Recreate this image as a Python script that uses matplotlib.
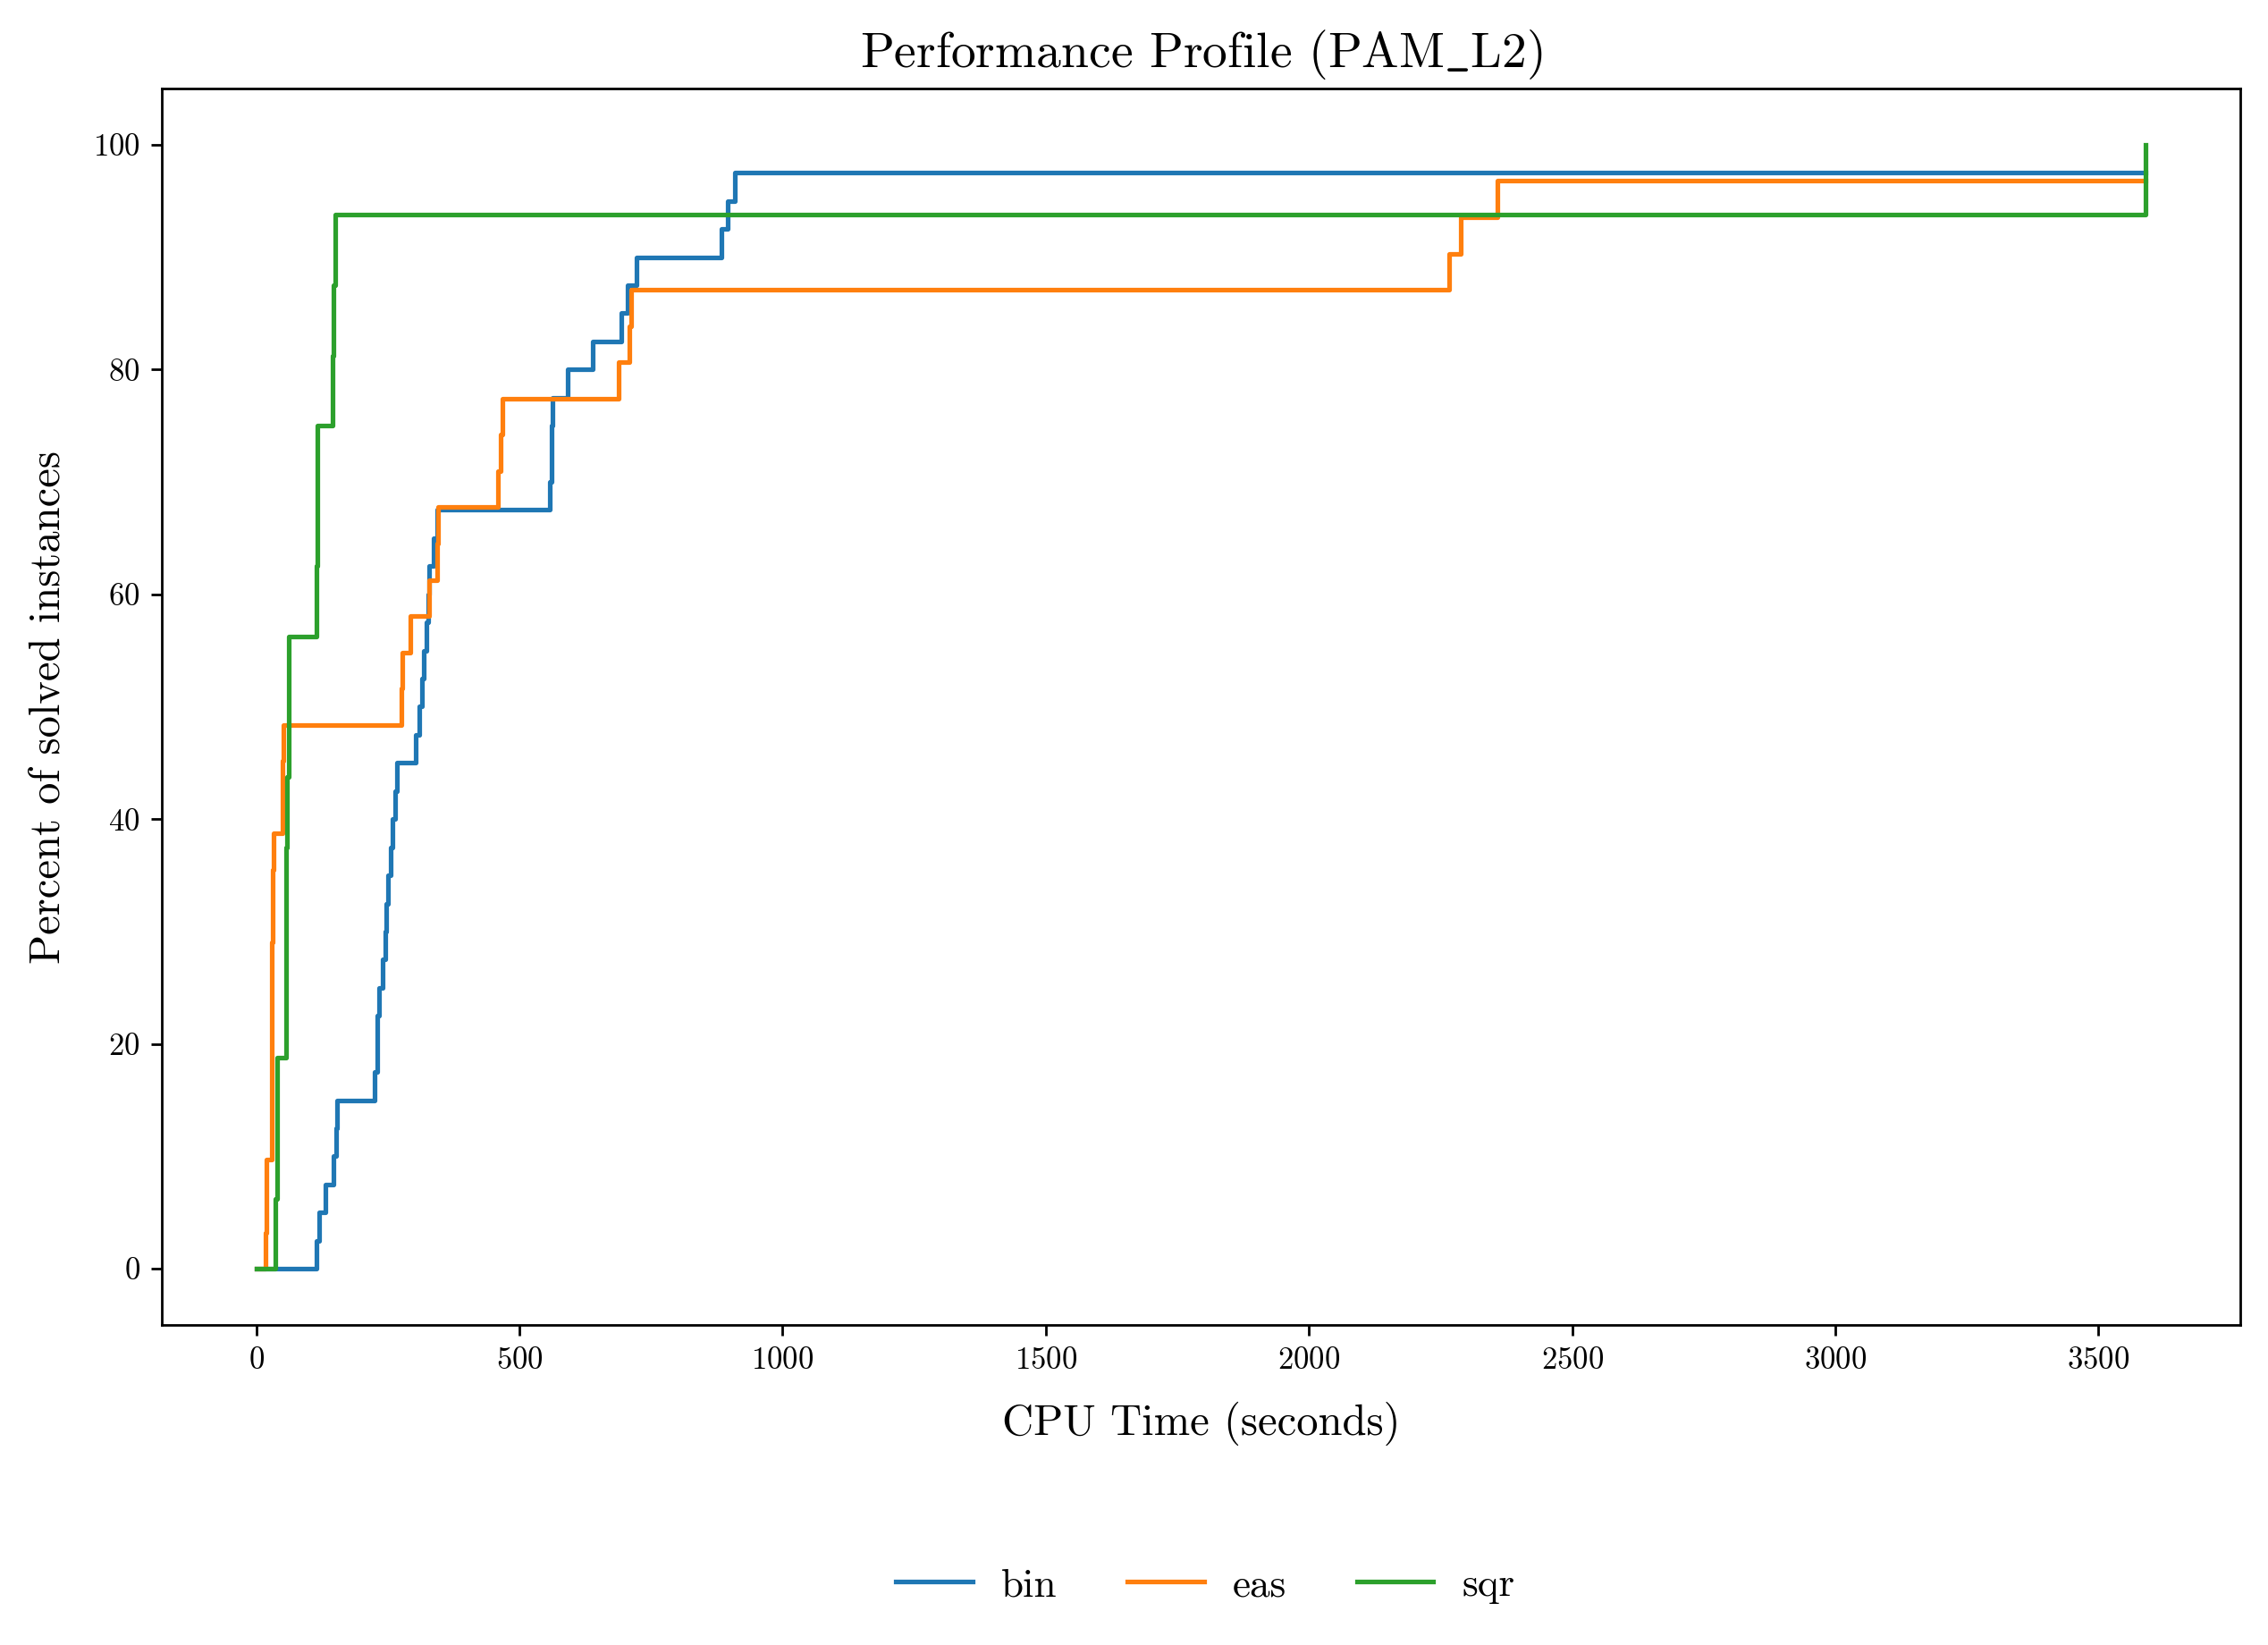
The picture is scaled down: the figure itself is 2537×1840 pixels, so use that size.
import matplotlib
matplotlib.use("Agg")
import matplotlib.pyplot as plt

plt.rcParams['font.family'] = 'serif'
plt.rcParams['font.serif'] = ['cmr10', 'DejaVu Serif']
plt.rcParams['mathtext.fontset'] = 'cm'
plt.rcParams['axes.formatter.use_mathtext'] = True

# Step data (CPU time in seconds, percent of solved instances)
bin_time = [0, 115, 119, 131, 146, 151, 153, 224, 229, 234, 240, 245, 247, 251, 255,
            259, 263, 267, 303, 310, 315, 319, 324, 326, 329, 337, 343, 558, 561, 563,
            592, 639, 694, 705, 723, 883, 895, 909, 3590]
bin_pct = [0, 2.5, 5, 7.5, 10, 12.5, 15, 17.5, 22.5, 25, 27.5, 30, 32.5, 35, 37.5,
           40, 42.5, 45, 47.5, 50, 52.5, 55, 57.5, 60, 62.5, 65, 67.5, 70, 75, 77.5,
           80, 82.5, 85, 87.5, 90, 92.5, 95, 97.5, 97.5]

eas_time = [0, 17, 19, 29, 30, 31, 32, 49, 51, 275, 277, 292, 329, 343, 345, 459,
            465, 467, 688, 709, 712, 2266, 2289, 2358, 3590]
eas_pct = [0, 3.23, 9.68, 19.35, 29.03, 35.48, 38.71, 45.16, 48.39, 51.61, 54.84,
           58.06, 61.29, 64.52, 67.74, 70.97, 74.19, 77.42, 80.65, 83.87, 87.10,
           90.32, 93.55, 96.77, 96.77]

sqr_time = [0, 37, 39, 57, 59, 61, 62, 114, 116, 145, 147, 150, 3590]
sqr_pct = [0, 6.25, 18.75, 37.5, 43.75, 50, 56.25, 62.5, 75, 81.25, 87.5, 93.75, 100]

series = [("bin", bin_time, bin_pct, "#1f77b4"),
          ("eas", eas_time, eas_pct, "#ff7f0e"),
          ("sqr", sqr_time, sqr_pct, "#2ca02c")]

fig = plt.figure(figsize=(2537 / 250, 1840 / 250), dpi=250)
ax = fig.add_axes([181 / 2537, 1 - 1482 / 1840, (2506 - 181) / 2537, (1482 - 99) / 1840])

for name, t, p, c in series:
    ax.step(t, p, where='post', color=c, linewidth=1.5, label=name)

ax.set_xticks([0, 500, 1000, 1500, 2000, 2500, 3000, 3500])
ax.set_yticks([0, 20, 40, 60, 80, 100])
ax.tick_params(labelsize=10)
ax.set_xlabel("CPU Time (seconds)", fontsize=14, labelpad=8.5)
ax.set_ylabel("Percent of solved instances", fontsize=14, labelpad=8)
ax.set_title(r"Performance Profile (PAM$\_$L2)", fontsize=16, pad=7)

ax.legend(loc='center', bbox_to_anchor=(0.502, -0.211), ncol=3, frameon=False,
          fontsize=13, handlelength=1.9, columnspacing=1.75, handletextpad=0.7)

fig.savefig("out.png", dpi=250)
